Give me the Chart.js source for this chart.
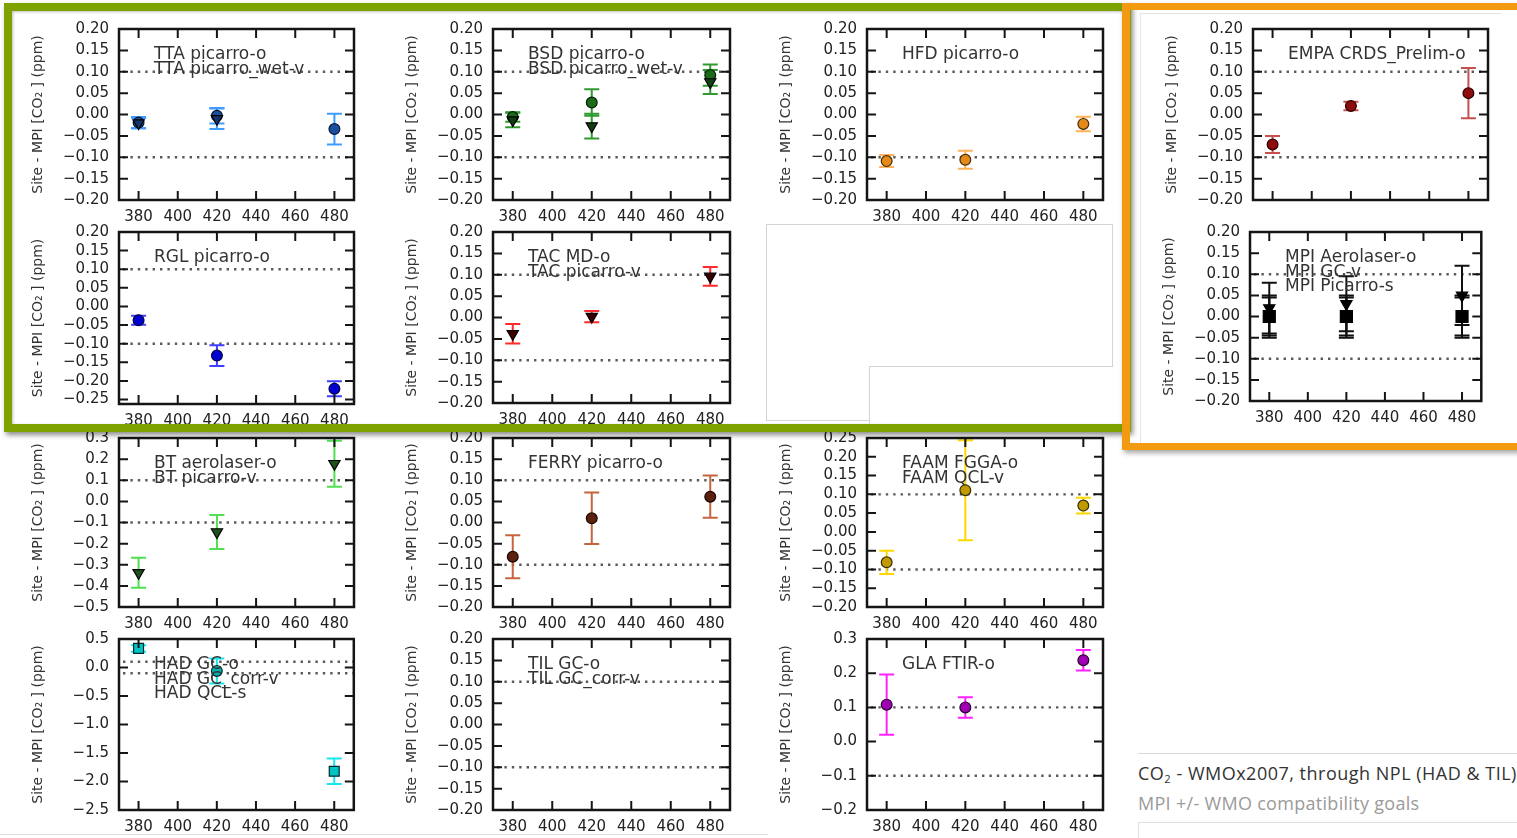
<!DOCTYPE html>
<html>
<head>
<meta charset="utf-8">
<script src="https://cdn.jsdelivr.net/npm/chart.js@4/dist/chart.umd.min.js"></script>
<style>
html,body{margin:0;padding:0;background:#fff;width:1517px;height:838px;overflow:hidden;}
#stage{position:relative;width:1517px;height:838px;overflow:hidden;background:#fff;}
.panel{position:absolute;z-index:3;}
.box{position:absolute;box-sizing:border-box;}
#green{position:absolute;left:4px;top:3px;width:1127px;height:429px;box-sizing:border-box;
  border:8px solid #7ea300;border-right-width:5px;z-index:6;
  box-shadow:2px 3px 5px rgba(0,0,0,0.45), inset 1px 1px 3px rgba(0,0,0,0.25);}
#orange{position:absolute;left:1122px;top:3px;width:420px;height:447px;box-sizing:border-box;
  border:7px solid #f29a10;border-left-width:8px;z-index:7;
  box-shadow:2px 3px 5px rgba(0,0,0,0.35);}
.cap1{position:absolute;left:1138px;top:761px;font-family:"Open Sans",sans-serif;font-size:18px;letter-spacing:0.5px;color:#333;white-space:nowrap;z-index:4;}
.cap1 sub{font-size:0.62em;vertical-align:-0.3em;line-height:0;}
.cap2{position:absolute;left:1138px;top:791px;font-family:"Open Sans",sans-serif;font-size:18px;letter-spacing:0.3px;color:#9a9a9a;white-space:nowrap;z-index:4;}
</style>
</head>
<body>
<div id="stage">
  <div class="box" style="left:766px;top:224px;width:347px;height:197px;border:1px solid #d4d4d4;background:#fff;z-index:1;"></div>
  <div class="box" style="left:869px;top:366px;width:244px;height:60px;border-top:1px solid #d4d4d4;border-left:1px solid #d4d4d4;background:#fff;z-index:1;"></div>
  <div class="box" style="left:1140px;top:13px;width:361px;height:430px;border-top:1px solid #e4e4e4;border-left:1px solid #e4e4e4;z-index:1;"></div>
  <div class="box" style="left:1138px;top:452px;width:400px;height:302px;border-bottom:1px solid #d8d8d8;z-index:1;"></div>
  <div class="box" style="left:1138px;top:822px;width:400px;height:30px;border-top:1px solid #e0e0e0;border-left:1px solid #e0e0e0;z-index:1;"></div>
  <div class="box" style="left:0px;top:834px;width:768px;height:4px;border-top:1px solid #dedede;z-index:1;"></div>
  <div id="green"></div>
  <div id="orange"></div>
  <div class="cap1">CO<sub>2</sub> - WMOx2007, through NPL (HAD &amp; TIL)</div>
  <div class="cap2">MPI +/- WMO compatibility goals</div>
</div>
<script>
// ---------- data ----------
const xPositions = [380, 420, 480];
const xTickLabels = [380, 400, 420, 440, 460, 480];
const wmoGoalLimits = [-0.1, 0.1];
const yAxisTitle = 'Site - MPI [CO\u2082 ] (ppm)';

const yTicksStd  = [-0.20, -0.15, -0.10, -0.05, 0.00, 0.05, 0.10, 0.15, 0.20];
const yTicksRgl  = [-0.25, -0.20, -0.15, -0.10, -0.05, 0.00, 0.05, 0.10, 0.15, 0.20];
const yTicksFaam = [-0.20, -0.15, -0.10, -0.05, 0.00, 0.05, 0.10, 0.15, 0.20, 0.25];
const yTicksBt   = [-0.5, -0.4, -0.3, -0.2, -0.1, 0.0, 0.1, 0.2, 0.3];
const yTicksHad  = [-2.5, -2.0, -1.5, -1.0, -0.5, 0.0, 0.5];
const yTicksGla  = [-0.2, -0.1, 0.0, 0.1, 0.2, 0.3];

const ttaPicarroO       = [-0.019, -0.003, -0.034];
const ttaPicarroOErr    = [0.013, 0.018, 0.036];
const ttaPicarroWetV    = [-0.020, -0.010, null];
const ttaPicarroWetVErr = [0.012, 0.024, null];

const bsdPicarroO       = [-0.006, 0.028, 0.092];
const bsdPicarroOErr    = [0.011, 0.031, 0.025];
const bsdPicarroWetV    = [-0.013, -0.027, 0.076];
const bsdPicarroWetVErr = [0.017, 0.029, 0.028];

const hfdPicarroO       = [-0.109, -0.106, -0.022];
const hfdPicarroOErr    = [0.014, 0.021, 0.017];

const empaCrdsPrelimO    = [-0.070, 0.020, 0.050];
const empaCrdsPrelimOErr = [0.020, 0.010, 0.059];

const rglPicarroO       = [-0.037, -0.132, -0.221];
const rglPicarroOErr    = [0.012, 0.028, 0.020];

const tacMdO            = [null, null, null];
const tacMdOErr         = [null, null, null];
const tacPicarroV       = [-0.038, 0.002, 0.096];
const tacPicarroVErr    = [0.023, 0.013, 0.022];

const mpiAerolaserO     = [0.0, 0.0, 0.0];
const mpiAerolaserOErr  = [0.045, 0.045, 0.045];
const mpiGcV            = [0.020, 0.030, 0.050];
const mpiGcVErr         = [0.060, 0.065, 0.070];
const mpiPicarroS       = [0.0, 0.0, 0.0];
const mpiPicarroSErr    = [0.050, 0.050, 0.050];

const btAerolaserO      = [null, null, null];
const btAerolaserOErr   = [null, null, null];
const btPicarroV        = [-0.338, -0.145, 0.178];
const btPicarroVErr     = [0.071, 0.080, 0.109];

const ferryPicarroO     = [-0.081, 0.010, 0.061];
const ferryPicarroOErr  = [0.051, 0.061, 0.050];

const faamFggaO         = [-0.081, 0.111, 0.070];
const faamFggaOErr      = [0.031, 0.133, 0.021];
const faamQclV          = [null, null, null];
const faamQclVErr       = [null, null, null];

const hadGcO            = [null, -0.06, null];
const hadGcOErr         = [null, 0.22, null];
const hadGcCorrV        = [null, null, null];
const hadGcCorrVErr     = [null, null, null];
const hadQclS           = [0.335, null, -1.82];
const hadQclSErr        = [0.057, null, 0.222];

const tilGcO            = [null, null, null];
const tilGcOErr         = [null, null, null];
const tilGcCorrV        = [null, null, null];
const tilGcCorrVErr     = [null, null, null];

const glaFtirO          = [0.108, 0.100, 0.238];
const glaFtirOErr       = [0.088, 0.030, 0.030];

// ---------- panels (layout + styles) ----------
const panels = [
  {frame:[119,29,354,200], yr:[-0.2,0.2], yTicks:yTicksStd, dec:2,
   legend:['TTA picarro-o','TTA picarro_wet-v'],
   series:[{v:ttaPicarroO,e:ttaPicarroOErr,shape:'o',fill:'#1b4f9e',edge:'#061633',bar:'#3e9cff'},
           {v:ttaPicarroWetV,e:ttaPicarroWetVErr,shape:'v',fill:'#15336e',edge:'#000',bar:'#3e9cff'}]},
  {frame:[493,29,730,200], yr:[-0.2,0.2], yTicks:yTicksStd, dec:2,
   legend:['BSD picarro-o','BSD picarro_wet-v'],
   series:[{v:bsdPicarroO,e:bsdPicarroOErr,shape:'o',fill:'#1b6b1b',edge:'#052005',bar:'#2f9a2f'},
           {v:bsdPicarroWetV,e:bsdPicarroWetVErr,shape:'v',fill:'#123f12',edge:'#000',bar:'#2f9a2f'}]},
  {frame:[867,29,1103,200], yr:[-0.2,0.2], yTicks:yTicksStd, dec:2,
   legend:['HFD picarro-o'],
   series:[{v:hfdPicarroO,e:hfdPicarroOErr,shape:'o',fill:'#e4891c',edge:'#4a2c00',bar:'#ffb25e'}]},
  {frame:[1253,29,1488,200], yr:[-0.2,0.2], yTicks:yTicksStd, dec:2, hideX:true,
   legend:['EMPA CRDS_Prelim-o'],
   series:[{v:empaCrdsPrelimO,e:empaCrdsPrelimOErr,shape:'o',fill:'#8e0c0c',edge:'#2a0000',bar:'#c65050'}]},
  {frame:[119,232,354,404], yr:[-0.262,0.2], yTicks:yTicksRgl, dec:2,
   legend:['RGL picarro-o'],
   series:[{v:rglPicarroO,e:rglPicarroOErr,shape:'o',fill:'#0000d0',edge:'#000040',bar:'#3f3fff'}]},
  {frame:[493,232,730,403], yr:[-0.2,0.2], yTicks:yTicksStd, dec:2,
   legend:['TAC MD-o','TAC picarro-v'],
   series:[{v:tacMdO,e:tacMdOErr,shape:'o',fill:'#b00000',edge:'#200000',bar:'#ff2a2a'},
           {v:tacPicarroV,e:tacPicarroVErr,shape:'v',fill:'#3a0000',edge:'#000',bar:'#ff2a2a'}]},
  {frame:[1250,232,1483,401], yr:[-0.2,0.2], yTicks:yTicksStd, dec:2,
   legend:['MPI Aerolaser-o','MPI GC-v','MPI Picarro-s'],
   series:[{v:mpiAerolaserO,e:mpiAerolaserOErr,shape:'o',fill:'#000',edge:'#000',bar:'#111'},
           {v:mpiGcV,e:mpiGcVErr,shape:'v',fill:'#000',edge:'#000',bar:'#111'},
           {v:mpiPicarroS,e:mpiPicarroSErr,shape:'s',fill:'#000',edge:'#000',bar:'#111',size:8.5}]},
  {frame:[119,438,354,607], yr:[-0.5,0.3], yTicks:yTicksBt, dec:1,
   legend:['BT aerolaser-o','BT picarro-v'],
   series:[{v:btAerolaserO,e:btAerolaserOErr,shape:'o',fill:'#2a8a2a',edge:'#000',bar:'#4ee04e'},
           {v:btPicarroV,e:btPicarroVErr,shape:'v',fill:'#1d521d',edge:'#000',bar:'#4ee04e'}]},
  {frame:[493,438,730,607], yr:[-0.2,0.2], yTicks:yTicksStd, dec:2,
   legend:['FERRY picarro-o'],
   series:[{v:ferryPicarroO,e:ferryPicarroOErr,shape:'o',fill:'#5c200e',edge:'#1a0500',bar:'#c6653d'}]},
  {frame:[867,438,1103,607], yr:[-0.2,0.25], yTicks:yTicksFaam, dec:2,
   legend:['FAAM FGGA-o','FAAM QCL-v'],
   series:[{v:faamFggaO,e:faamFggaOErr,shape:'o',fill:'#c09a00',edge:'#3a2e00',bar:'#ffd700'},
           {v:faamQclV,e:faamQclVErr,shape:'v',fill:'#806600',edge:'#000',bar:'#ffd700'}]},
  {frame:[119,639,354,810], yr:[-2.5,0.5], yTicks:yTicksHad, dec:1,
   legend:['HAD GC-o','HAD GC_corr-v','HAD QCL-s'],
   series:[{v:hadGcO,e:hadGcOErr,shape:'o',fill:'#00b0b0',edge:'#002a2a',bar:'#18e6ee'},
           {v:hadGcCorrV,e:hadGcCorrVErr,shape:'v',fill:'#007878',edge:'#000',bar:'#18e6ee'},
           {v:hadQclS,e:hadQclSErr,shape:'s',fill:'#00c4c4',edge:'#002a2a',bar:'#18e6ee',size:7}]},
  {frame:[493,639,730,810], yr:[-0.2,0.2], yTicks:yTicksStd, dec:2,
   legend:['TIL GC-o','TIL GC_corr-v'],
   series:[{v:tilGcO,e:tilGcOErr,shape:'o',fill:'#888',edge:'#000',bar:'#aaa'},
           {v:tilGcCorrV,e:tilGcCorrVErr,shape:'v',fill:'#888',edge:'#000',bar:'#aaa'}]},
  {frame:[867,639,1103,810], yr:[-0.2,0.3], yTicks:yTicksGla, dec:1,
   legend:['GLA FTIR-o'],
   series:[{v:glaFtirO,e:glaFtirOErr,shape:'o',fill:'#a000b4',edge:'#2c0030',bar:'#ff22ff'}]}
];

function fmt(v, dec) {
  if (Math.abs(v) < 1e-9) return (0).toFixed(dec);
  return (v < 0 ? '\u2212' : '') + Math.abs(v).toFixed(dec);
}

Chart.defaults.font.family = "'DejaVu Sans', sans-serif";

const panelDeco = {
  id: 'panelDeco',
  beforeDatasetsDraw(chart, args, o) {
    const {ctx, chartArea: a, scales: {x, y}} = chart;
    ctx.save();
    ctx.beginPath();
    ctx.rect(a.left, a.top, a.right - a.left, a.bottom - a.top);
    ctx.clip();
    // WMO compatibility goal lines
    ctx.strokeStyle = '#5a5a5a';
    ctx.lineWidth = 2.4;
    ctx.setLineDash([2.4, 5]);
    wmoGoalLimits.forEach(g => {
      const py = y.getPixelForValue(g);
      ctx.beginPath();
      ctx.moveTo(a.left + 4, py);
      ctx.lineTo(a.right, py);
      ctx.stroke();
    });
    ctx.setLineDash([]);
    // error bars
    chart.data.datasets.forEach(ds => {
      ctx.strokeStyle = ds.errColor;
      ctx.lineWidth = 2;
      ds.data.forEach(p => {
        const px = x.getPixelForValue(p.x);
        const top = y.getPixelForValue(p.y + p.err);
        const bot = y.getPixelForValue(p.y - p.err);
        ctx.beginPath();
        ctx.moveTo(px, top); ctx.lineTo(px, bot);
        ctx.moveTo(px - 7.5, top); ctx.lineTo(px + 7.5, top);
        ctx.moveTo(px - 7.5, bot); ctx.lineTo(px + 7.5, bot);
        ctx.stroke();
      });
    });
    ctx.restore();
  },
  afterDraw(chart, args, o) {
    const {ctx, chartArea: a, scales: {x, y}} = chart;
    ctx.save();
    ctx.strokeStyle = '#151515';
    ctx.lineWidth = 2;
    ctx.beginPath();
    xTickLabels.forEach(v => {
      const px = x.getPixelForValue(v);
      ctx.moveTo(px, a.bottom); ctx.lineTo(px, a.bottom - 9);
      ctx.moveTo(px, a.top); ctx.lineTo(px, a.top + 9);
    });
    (o.yTicks || []).forEach(v => {
      const py = y.getPixelForValue(v);
      if (py < a.top + 2 || py > a.bottom - 2) return;
      ctx.moveTo(a.left, py); ctx.lineTo(a.left + 9, py);
      ctx.moveTo(a.right, py); ctx.lineTo(a.right - 9, py);
    });
    ctx.stroke();
    ctx.lineWidth = 2.5;
    ctx.strokeRect(a.left, a.top, a.right - a.left, a.bottom - a.top);
    ctx.font = '17px "DejaVu Sans"';
    ctx.fillStyle = '#333';
    ctx.textBaseline = 'middle';
    ctx.textAlign = 'left';
    (o.lines || []).forEach((s, i) => ctx.fillText(s, a.left + o.dx, a.top + o.dy + i * o.step));
    ctx.restore();
  }
};

const stage = document.getElementById('stage');
const shapeStyle = {o: 'circle', v: 'triangle', s: 'rect'};
const TOP_OFF = 19;

panels.forEach(p => {
  const [L, T, R, B] = p.frame;
  const div = document.createElement('div');
  div.className = 'panel';
  div.style.left = (L - 92) + 'px';
  div.style.top = (T - TOP_OFF) + 'px';
  div.style.width = (R - L + 100) + 'px';
  div.style.height = (B - T + TOP_OFF + 30) + 'px';
  const cv = document.createElement('canvas');
  div.appendChild(cv);
  stage.appendChild(div);
  const n = p.series.length;
  const datasets = p.series.map((s, k) => ({
    label: p.legend[k] || '',
    data: xPositions.map((xv, i) => (s.v[i] == null ? null : {x: xv, y: s.v[i], err: s.e[i]})).filter(d => d),
    showLine: false,
    pointStyle: shapeStyle[s.shape],
    pointRotation: s.shape === 'v' ? 180 : 0,
    pointRadius: s.size || (s.shape === 'v' ? 6.5 : 5.4),
    pointBackgroundColor: s.fill,
    pointBorderColor: s.edge,
    pointBorderWidth: 1.2,
    errColor: s.bar,
    order: n - k
  }));
  new Chart(cv, {
    type: 'scatter',
    data: {datasets},
    options: {
      responsive: true,
      maintainAspectRatio: false,
      animation: false,
      events: [],
      layout: {padding: {left: 0, top: 10, right: 8, bottom: 0}},
      plugins: {
        legend: {display: false},
        tooltip: {enabled: false},
        panelDeco: {lines: p.legend, dx: 35, dy: 26, step: 14.5, yTicks: p.yTicks}
      },
      scales: {
        x: {
          type: 'linear', min: 370, max: 490,
          grid: {display: false, drawTicks: false},
          border: {display: false},
          afterBuildTicks: ax => { ax.ticks = xTickLabels.map(v => ({value: v})); },
          afterFit: ax => { ax.height = 30; },
          ticks: {display: !p.hideX, padding: 8, autoSkip: false, maxRotation: 0,
                  font: {family: 'DejaVu Sans', size: 15}, color: '#222'}
        },
        y: {
          type: 'linear', min: p.yr[0], max: p.yr[1],
          grid: {display: false, drawTicks: false},
          border: {display: false},
          afterBuildTicks: ax => { ax.ticks = p.yTicks.map(v => ({value: v})); },
          afterFit: ax => { ax.width = 92; },
          title: {display: true, text: yAxisTitle, color: '#333',
                  font: {family: 'DejaVu Sans', size: 14}, padding: {top: 3, bottom: 0}},
          ticks: {padding: 10, autoSkip: false, font: {family: 'DejaVu Sans', size: 15}, color: '#222',
                  callback: v => fmt(v, p.dec)}
        }
      }
    },
    plugins: [panelDeco]
  });
});
</script>
</body>
</html>
